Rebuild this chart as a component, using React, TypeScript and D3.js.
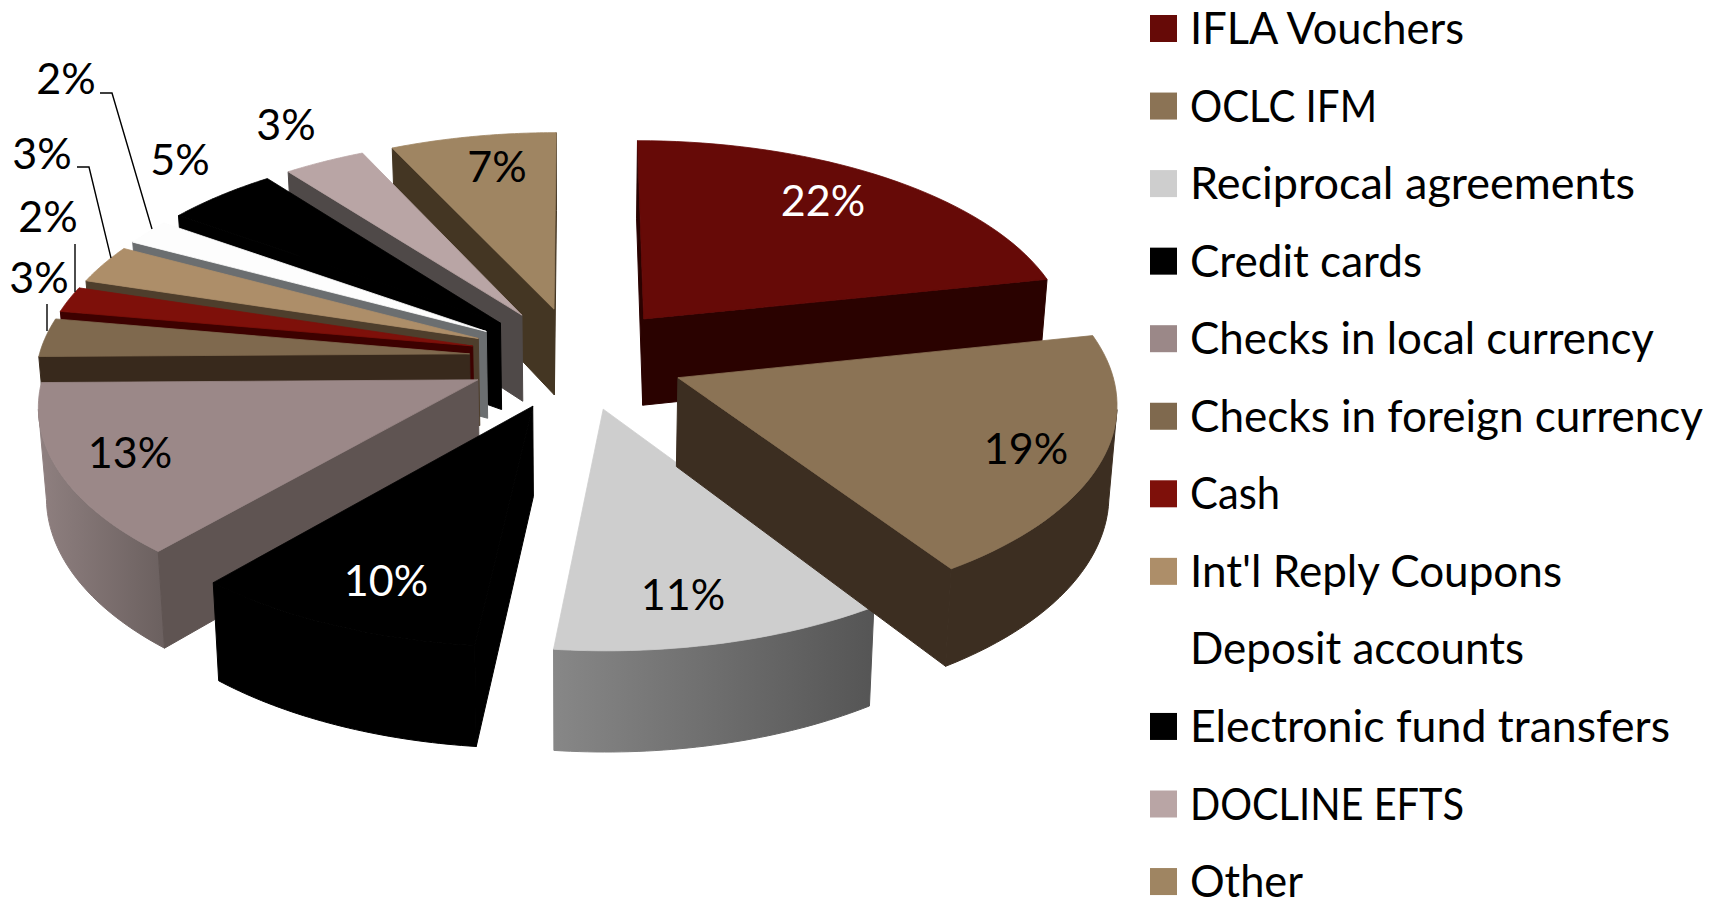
import React from "react";
import * as d3 from "d3";

const categories = ["IFLA Vouchers","OCLC IFM","Reciprocal agreements","Credit cards","Checks in local currency","Checks in foreign currency","Cash","Int'l Reply Coupons","Deposit accounts","Electronic fund transfers","DOCLINE EFTS","Other"];
const shares = [21.7,19,11,9.7,13.39,3,2,3,2,4.76,3.45,7];
const topColors = ["#660a07","#8b7355","#cecece","#000000","#9b8888","#7f694e","#7e100a","#ad8e69","#fdfdfd","#000000","#b9a5a5","#9f8562"];
const sideColors = ["#2a0200","#3c2e21","#5a5a5a","#000000","#5f5452","#38291c","#3d0100","#4e3e2c","#6b6e70","#000000","#4f4948","#443623"];
const rimLeft = ["#2a0200","#3c2e21","#878787","#000000","#8f8080","#38291c","#3d0100","#4e3e2c","#6b6e70","#000000","#4f4948","#443623"];
const rimRight = ["#2a0200","#3c2e21","#555555","#000000","#6b605f","#38291c","#3d0100","#4e3e2c","#6b6e70","#000000","#4f4948","#443623"];
const legendColors = ["#660a07","#8b7355","#cecece","#000000","#9b8888","#7f694e","#7e100a","#ad8e69","#ffffff","#000000","#b9a5a5","#9f8562"];
const labelColors = ["#fff","#000","#000","#fff","#000","#000","#000","#000","#000","#000","#000","#000"];
const labelPos = [[823,199],[1026,447],[683,593],[386,579],[130,451],[39,276],[48,215],[42,152],[66,77],[180,158],[286,123],[497,165]];
const legendWidths = [274,187,445,232,464,513,90,372,334,480,274,113];
const drawOrder = [11,10,9,8,7,6,5,4,3,2,0,1];
const leaders = [
  [[100,93],[112,93],[152,229]],
  [[77,167],[89,167],[111,258]],
  [[75,244],[75,292]],
  [[47,304],[47,331]],
];

const cx = 577, cy = 358, R = 431, EX = 108, TILT = 0.475, K = 0.105, H = 88, CONV = 0.985;
const FONT = "Lato, Carlito, Calibri, sans-serif";

const project = (X: number, Z: number, lower: boolean) => {
  const s = 1 / (1 + (K * Z) / R);
  let x = X * s, y = -Z * TILT * s;
  if (lower) { x *= CONV; y += H * s; }
  return [cx + x, cy + y] as [number, number];
};

const arcs = d3.pie<number>().sort(null).value((d) => d)(shares);
const line = d3.line();
const pct = (v: number) => d3.format(".0f")(v) + "%";

function buildSlice(i: number) {
  const a = arcs[i];
  const mid = (a.startAngle + a.endAngle) / 2;
  const ax = EX * Math.sin(mid), az = EX * Math.cos(mid);
  const P = (r: number, th: number, lower = false) =>
    project(ax + r * Math.sin(th), az + r * Math.cos(th), lower);
  const thetas = d3.range(0, 41).map((j) => a.startAngle + ((a.endAngle - a.startAngle) * j) / 40);
  const apex = P(0, 0);
  const rimTop = thetas.map((th) => P(R, th));
  const top = line([apex, ...rimTop]) + "Z";
  const cen = P(R * 0.6, mid);
  const wall = (th: number) => {
    const A = apex, B = P(R, th);
    const d = [B[0] - A[0], B[1] - A[1]];
    const crossC = d[0] * (cen[1] - A[1]) - d[1] * (cen[0] - A[0]);
    const crossDown = d[0];
    if (crossC * crossDown >= 0) return null;
    return line([A, B, P(R, th, true), P(0, 0, true)]) + "Z";
  };
  const walls = [wall(a.startAngle), wall(a.endAngle)].filter(Boolean) as string[];
  const vis = thetas.filter((th) => {
    const p0 = P(R, th - 0.001), p1 = P(R, th + 0.001);
    return p1[0] < p0[0];
  });
  const rim = vis.length > 1
    ? line([...vis.map((th) => P(R, th)), ...vis.slice().reverse().map((th) => P(R, th, true))]) + "Z"
    : null;
  return { top, walls, rim };
}

export default function App() {
  return (
    <svg width={1717} height={898} style={{ position: "absolute", left: 0, top: 0, display: "block", background: "#fff" }}>
      <defs>
        {shares.map((_, i) => (
          <linearGradient key={i} id={`rim${i}`} x1="0" x2="1" y1="0" y2="0">
            <stop offset="0" stopColor={rimLeft[i]} />
            <stop offset="1" stopColor={rimRight[i]} />
          </linearGradient>
        ))}
      </defs>
      {drawOrder.map((i) => {
        const s = buildSlice(i);
        return (
          <g key={i}>
            {s.rim && <path d={s.rim} fill={`url(#rim${i})`} stroke={`url(#rim${i})`} strokeWidth={1} />}
            {s.walls.map((d, j) => <path key={j} d={d} fill={sideColors[i]} stroke={sideColors[i]} strokeWidth={1} />)}
            <path d={s.top} fill={topColors[i]} stroke={topColors[i]} strokeWidth={0.8} />
          </g>
        );
      })}
      {leaders.map((pts, i) => (
        <path key={i} d={line(pts as [number, number][]) as string} fill="none" stroke="#000" strokeWidth={1.4} />
      ))}
      {shares.map((v, i) => (
        <text key={i} x={labelPos[i][0]} y={labelPos[i][1]} fill={labelColors[i]} fontFamily={FONT} fontSize={43} textAnchor="middle" dominantBaseline="central">{pct(v)}</text>
      ))}
      {categories.map((c, i) => {
        const y = 28.5 + i * 77.55;
        return (
          <g key={c}>
            <rect x={1150} y={y - 13.5} width={27} height={27} fill={legendColors[i]} />
            <text x={1190} y={y - 1.5} fontFamily={FONT} fontSize={44} dominantBaseline="central" fill="#000" textLength={legendWidths[i]} lengthAdjust="spacingAndGlyphs">{c}</text>
          </g>
        );
      })}
    </svg>
  );
}
